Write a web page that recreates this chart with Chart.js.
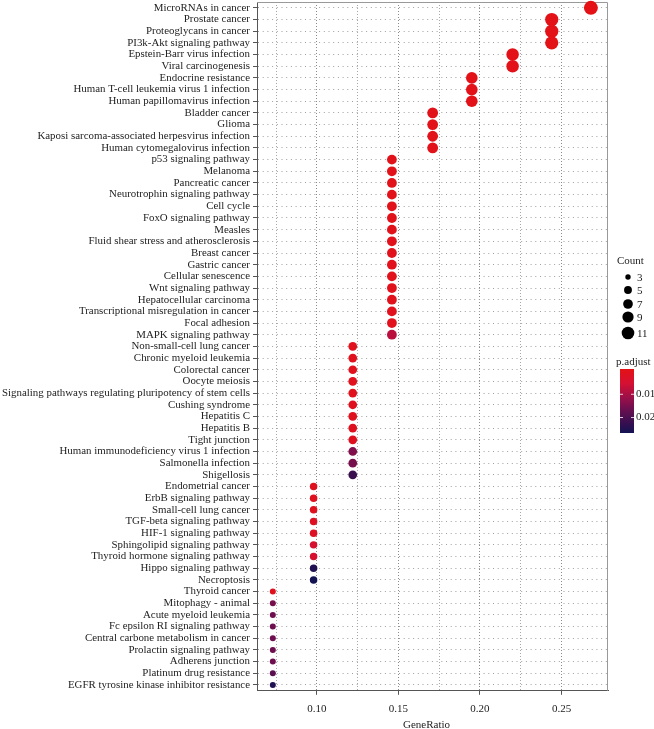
<!DOCTYPE html>
<html>
<head>
<meta charset="utf-8">
<script src="https://cdn.jsdelivr.net/npm/chart.js@4"></script>
<style>
  html, body { margin: 0; padding: 0; background: #fff; }
  canvas { display: block; }
</style>
</head>
<body>
<canvas id="chart" width="654" height="729"></canvas>
<script>
// KEGG pathways, top to bottom
const pathways = [
  "MicroRNAs in cancer", "Prostate cancer", "Proteoglycans in cancer", "PI3k-Akt signaling pathway",
  "Epstein-Barr virus infection", "Viral carcinogenesis", "Endocrine resistance",
  "Human T-cell leukemia virus 1 infection", "Human papillomavirus infection", "Bladder cancer", "Glioma",
  "Kaposi sarcoma-associated herpesvirus infection", "Human cytomegalovirus infection", "p53 signaling pathway",
  "Melanoma", "Pancreatic cancer", "Neurotrophin signaling pathway", "Cell cycle", "FoxO signaling pathway",
  "Measles", "Fluid shear stress and atherosclerosis", "Breast cancer", "Gastric cancer", "Cellular senescence",
  "Wnt signaling pathway", "Hepatocellular carcinoma", "Transcriptional misregulation in cancer", "Focal adhesion",
  "MAPK signaling pathway", "Non-small-cell lung cancer", "Chronic myeloid leukemia", "Colorectal cancer",
  "Oocyte meiosis", "Signaling pathways regulating pluripotency of stem cells", "Cushing syndrome", "Hepatitis C",
  "Hepatitis B", "Tight junction", "Human immunodeficiency virus 1 infection", "Salmonella infection", "Shigellosis",
  "Endometrial cancer", "ErbB signaling pathway", "Small-cell lung cancer", "TGF-beta signaling pathway",
  "HIF-1 signaling pathway", "Sphingolipid signaling pathway", "Thyroid hormone signaling pathway",
  "Hippo signaling pathway", "Necroptosis", "Thyroid cancer", "Mitophagy - animal", "Acute myeloid leukemia",
  "Fc epsilon RI signaling pathway", "Central carbone metabolism in cancer", "Prolactin signaling pathway",
  "Adherens junction", "Platinum drug resistance", "EGFR tyrosine kinase inhibitor resistance"
];
const counts = [
  11, 10, 10, 10, 9, 9, 8, 8, 8, 7, 7, 7, 7,
  6, 6, 6, 6, 6, 6, 6, 6, 6, 6, 6, 6, 6, 6, 6, 6,
  5, 5, 5, 5, 5, 5, 5, 5, 5, 5, 5, 5,
  4, 4, 4, 4, 4, 4, 4, 4, 4,
  3, 3, 3, 3, 3, 3, 3, 3, 3
];
const geneRatio = [
  0.268, 0.244, 0.244, 0.244, 0.220, 0.220, 0.195, 0.195, 0.195, 0.171, 0.171, 0.171, 0.171,
  0.146, 0.146, 0.146, 0.146, 0.146, 0.146, 0.146, 0.146, 0.146, 0.146, 0.146, 0.146, 0.146, 0.146, 0.146, 0.146,
  0.122, 0.122, 0.122, 0.122, 0.122, 0.122, 0.122, 0.122, 0.122, 0.122, 0.122, 0.122,
  0.098, 0.098, 0.098, 0.098, 0.098, 0.098, 0.098, 0.098, 0.098,
  0.073, 0.073, 0.073, 0.073, 0.073, 0.073, 0.073, 0.073, 0.073
];
const pAdjust = [
  0.0002, 0.0003, 0.0003, 0.0003, 0.0004, 0.0004, 0.0006, 0.0006, 0.0006, 0.0008, 0.0008, 0.0008, 0.0008,
  0.001, 0.001, 0.001, 0.001, 0.001, 0.001, 0.001, 0.0012, 0.0012, 0.0012, 0.0012, 0.0012, 0.0012, 0.0015, 0.0015, 0.009,
  0.0015, 0.0015, 0.0015, 0.0015, 0.0015, 0.0018, 0.0018, 0.0018, 0.002, 0.015, 0.016, 0.023,
  0.002, 0.002, 0.002, 0.0025, 0.003, 0.0055, 0.0055, 0.026, 0.0275,
  0.002, 0.016, 0.017, 0.017, 0.017, 0.017, 0.017, 0.019, 0.026
];
const xTicks = [0.10, 0.15, 0.20, 0.25];
const xMinorTicks = [0.075, 0.125, 0.175, 0.225];
const legendCounts = [3, 5, 7, 9, 11];
const colorbarTicks = [0.01, 0.02];

const FONT = '"Liberation Serif", "DejaVu Serif", serif';
const TEXT = '#222';
const pRange = [0, 0.0275];
const stops = [
  [0.000, [228, 18, 22]],
  [0.006, [214, 16, 50]],
  [0.012, [158, 16, 72]],
  [0.018, [100, 15, 80]],
  [0.024, [48, 15, 80]],
  [0.0275, [20, 20, 84]]
];

function pColor(p) {
  if (p <= stops[0][0]) return 'rgb(' + stops[0][1].join(',') + ')';
  for (let i = 1; i < stops.length; i++) {
    if (p <= stops[i][0]) {
      const t = (p - stops[i - 1][0]) / (stops[i][0] - stops[i - 1][0]);
      const a = stops[i - 1][1], b = stops[i][1];
      return 'rgb(' + a.map((v, k) => Math.round(v + (b[k] - v) * t)).join(',') + ')';
    }
  }
  return 'rgb(' + stops[stops.length - 1][1].join(',') + ')';
}

// area-proportional size like ggplot scale_size
function radiusOf(c) {
  const rMin = 3, rMax = 7;
  return Math.sqrt(rMin * rMin + (c - 3) / 8 * (rMax * rMax - rMin * rMin));
}

const isMajor = v => xTicks.some(t => Math.abs(t - v) < 1e-6);

const legendPlugin = {
  id: 'dotLegend',
  beforeDatasetsDraw(chart) {
    const { ctx, chartArea: a } = chart;
    ctx.save();
    ctx.strokeStyle = '#999';
    ctx.lineWidth = 1;
    ctx.beginPath();
    ctx.moveTo(a.left, a.top + 0.5);
    ctx.lineTo(a.right - 0.5, a.top + 0.5);
    ctx.lineTo(a.right - 0.5, a.bottom);
    ctx.stroke();
    ctx.restore();
  },
  afterDraw(chart) {
    const { ctx, chartArea: a } = chart;
    ctx.save();
    ctx.font = '11px ' + FONT;
    ctx.fillStyle = TEXT;
    ctx.textBaseline = 'middle';
    ctx.textAlign = 'center';
    ctx.fillText('GeneRatio', (a.left + a.right) / 2 - 6, 725);

    ctx.textAlign = 'left';
    ctx.fillText('Count', 617, 261);
    const ys = [277, 290, 304, 317, 333];
    legendCounts.forEach((c, i) => {
      ctx.fillStyle = '#000';
      ctx.beginPath();
      ctx.arc(628, ys[i], radiusOf(c) * 0.9, 0, Math.PI * 2);
      ctx.fill();
      ctx.fillStyle = TEXT;
      ctx.fillText(String(c), 637, ys[i] + 1);
    });

    ctx.fillText('p.adjust', 616, 362);
    const bx = 620, bw = 14, by = 369, bh = 64;
    const g = ctx.createLinearGradient(0, by, 0, by + bh);
    stops.forEach(s => g.addColorStop((s[0] - pRange[0]) / (pRange[1] - pRange[0]), pColor(s[0])));
    ctx.fillStyle = g;
    ctx.fillRect(bx, by, bw, bh);
    colorbarTicks.forEach(v => {
      const y = by + (v - pRange[0]) / (pRange[1] - pRange[0]) * bh + 2;
      ctx.strokeStyle = 'rgba(255,255,255,0.8)';
      ctx.beginPath();
      ctx.moveTo(bx, y); ctx.lineTo(bx + 3, y);
      ctx.moveTo(bx + bw - 3, y); ctx.lineTo(bx + bw, y);
      ctx.stroke();
      ctx.fillStyle = TEXT;
      ctx.fillText(v.toFixed(2), 636, y);
    });
    ctx.restore();
  }
};

new Chart(document.getElementById('chart'), {
  type: 'scatter',
  data: {
    datasets: [{
      data: pathways.map((p, i) => ({ x: geneRatio[i], y: p })),
      backgroundColor: pAdjust.map(pColor),
      borderWidth: 0,
      pointRadius: ctx => radiusOf(counts[ctx.dataIndex]),
      clip: false
    }]
  },
  options: {
    responsive: false,
    animation: false,
    devicePixelRatio: 1,
    layout: { autoPadding: false, padding: { top: 2, right: 46, bottom: 5, left: 0 } },
    plugins: { legend: { display: false }, tooltip: { enabled: false } },
    scales: {
      x: {
        type: 'linear',
        min: 0.0633,
        max: 0.2785,
        afterBuildTicks: scale => {
          scale.ticks = xMinorTicks.concat(xTicks).sort((a, b) => a - b).map(v => ({ value: v }));
        },
        afterFit: scale => { scale.paddingLeft = 0; scale.paddingRight = 0; },
        ticks: {
          font: { family: FONT, size: 11 },
          color: TEXT,
          padding: 8,
          maxRotation: 0,
          callback: v => isMajor(v) ? v.toFixed(2) : ''
        },
        grid: {
          color: ctx => isMajor(ctx.tick ? ctx.tick.value : 0) ? '#8a8a8a' : '#a8a8a8',
          lineWidth: 1,
          tickLength: 4,
          tickColor: ctx => isMajor(ctx.tick ? ctx.tick.value : 0) ? '#555' : 'rgba(0,0,0,0)'
        },
        border: { color: '#555', width: 1, dash: [1, 2] }
      },
      y: {
        type: 'category',
        labels: pathways,
        offset: true,
        afterFit: scale => { scale.width = 257; scale.paddingTop = 0; scale.paddingBottom = 0; },
        ticks: {
          autoSkip: false,
          font: { family: FONT, size: 10.9 },
          color: TEXT,
          padding: 3
        },
        grid: {
          offset: false,
          color: '#a0a0a0',
          lineWidth: 1,
          tickLength: 4,
          tickColor: '#555'
        },
        border: { color: '#555', width: 1, dash: [1, 3.7] }
      }
    }
  },
  plugins: [legendPlugin]
});
</script>
</body>
</html>
